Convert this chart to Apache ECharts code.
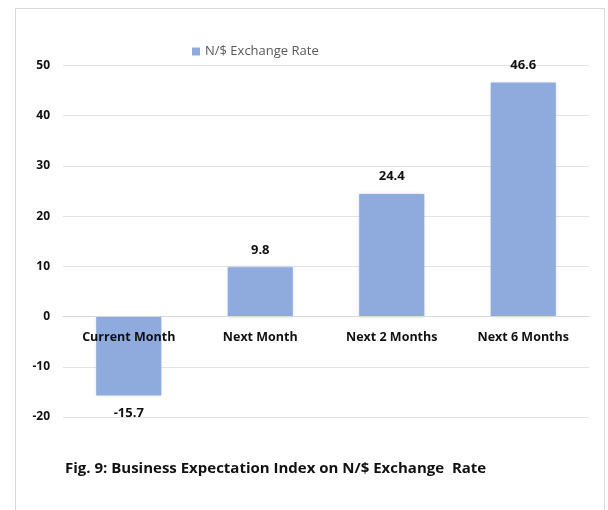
<!DOCTYPE html>
<html>
<head>
<meta charset="utf-8">
<script src="https://cdn.jsdelivr.net/npm/echarts@6/dist/echarts.min.js"></script>
<style>
  html, body { margin: 0; padding: 0; background: #fff; }
  #main { width: 608px; height: 510px; }
</style>
</head>
<body>
<div id="main"></div>
<script>
var categories = ['Current Month', 'Next Month', 'Next 2 Months', 'Next 6 Months'];
var values = [-15.7, 9.8, 24.4, 46.6];
var seriesName = 'N/$ Exchange Rate';

var myChart = echarts.init(document.getElementById('main'));

var option = {
    backgroundColor: '#fff',
    textStyle: { fontFamily: 'Open Sans' },
    title: {
        text: 'Fig. 9: Business Expectation Index on N/$ Exchange  Rate',
        left: 60,
        top: 456,
        textStyle: { fontSize: 15, fontWeight: 'bold', color: '#111', fontFamily: 'Open Sans' }
    },
    legend: {
        data: [seriesName],
        left: 187,
        top: 40,
        icon: 'rect',
        itemWidth: 8,
        itemHeight: 8,
        itemGap: 4,
        textStyle: { fontSize: 13, color: '#595959', fontFamily: 'Open Sans' }
    },
    graphic: [{
        type: 'rect',
        shape: { x: 15.5, y: 8.5, width: 589, height: 520 },
        style: { fill: 'none', stroke: '#d9d9d9', lineWidth: 1 },
        silent: true
    }],
    grid: { left: 63, right: 19, top: 65.5, bottom: 93 },
    xAxis: {
        type: 'category',
        data: categories,
        position: 'bottom',
        // labels sit next to the zero line, as in the source figure
        offset: -100.5,
        z: 5,
        axisLine: { onZero: false, lineStyle: { color: '#d9d9d9', width: 1 } },
        axisTick: { show: false },
        axisLabel: { fontSize: 12.5, fontWeight: 'bold', color: '#111', margin: 14, interval: 0 }
    },
    yAxis: {
        type: 'value',
        min: -20,
        max: 50,
        interval: 10,
        axisLine: { show: false },
        axisTick: { show: false },
        splitLine: { lineStyle: { color: '#e3e3e3', width: 1 } },
        axisLabel: { fontSize: 12, fontWeight: 'bold', color: '#111', margin: 13 }
    },
    series: [{
        name: seriesName,
        type: 'bar',
        data: values,
        barWidth: '49.5%',
        itemStyle: {
            color: '#8faadc',
            shadowBlur: 3,
            shadowColor: 'rgba(143,170,220,0.5)'
        },
        label: {
            show: true,
            position: 'outside',
            distance: 11,
            fontSize: 13,
            fontWeight: 'bold',
            color: '#111',
            fontFamily: 'Open Sans'
        }
    }]
};

myChart.setOption(option);
window.addEventListener('resize', function () {
    myChart.resize();
});
</script>
</body>
</html>
